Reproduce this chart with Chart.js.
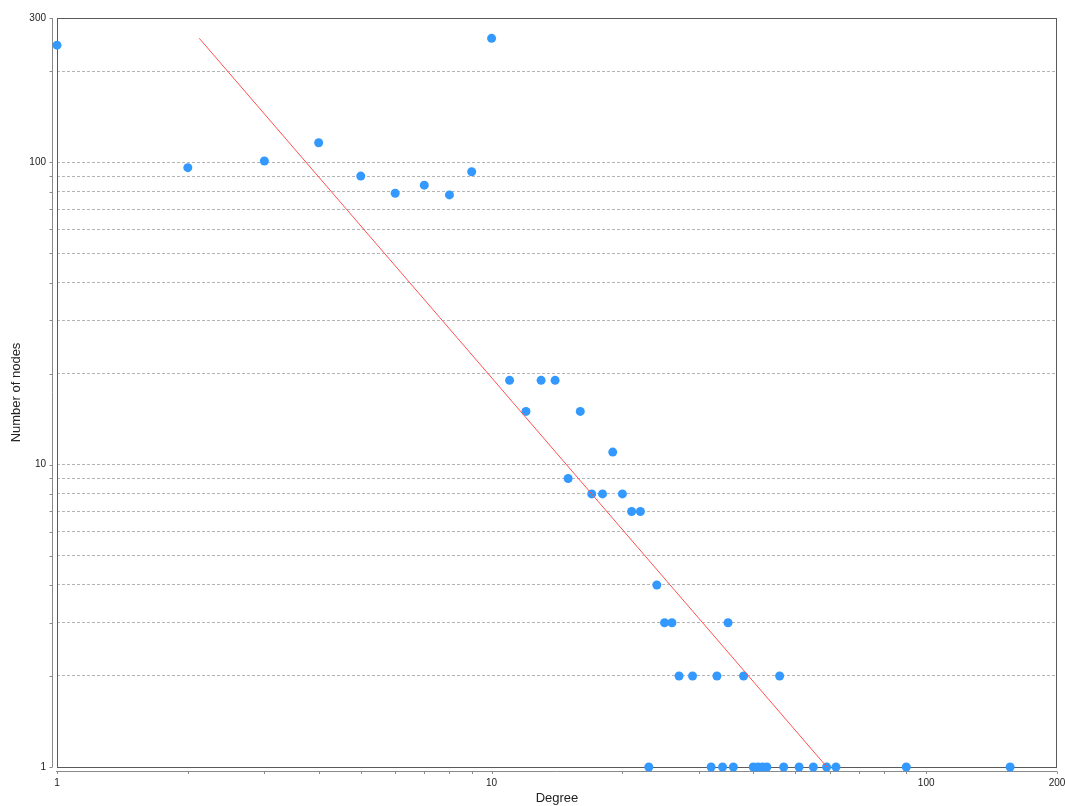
<!DOCTYPE html>
<html>
<head>
<meta charset="utf-8">
<script src="https://cdn.jsdelivr.net/npm/chart.js@4/dist/chart.umd.min.js"></script>
<style>
  html, body { margin: 0; padding: 0; background: #fff; }
  #wrap { width: 1065px; height: 806px; position: relative; }
</style>
</head>
<body>
<div id="wrap"><canvas id="c"></canvas></div>
<script>
// Degree distribution
const degrees = [1,2,3,4,5,6,7,8,9,10,11,12,13,14,15,16,17,18,19,20,21,22,23,24,25,26,27,29,32,33,34,35,36,38,40,41,42,43,46,47,51,55,59,62,90,156];
const nodeCounts = [244,96,101,116,90,79,84,78,93,257,19,15,19,19,9,15,8,8,11,8,7,7,1,4,3,3,2,2,1,2,1,3,1,2,1,1,1,1,2,1,1,1,1,1,1,1];

// Power-law fit line endpoints
const fitDegrees = [2.125, 59.1];
const fitCounts = [257, 1];

// Axis ticks
const xTickValues = [1,2,3,4,5,6,7,8,9,10,20,30,40,50,60,70,80,90,100,200];
const xTickLabels = [1,10,100,200];
const yTickValues = [1,2,3,4,5,6,7,8,9,10,20,30,40,50,60,70,80,90,100,200,300];
const yTickLabels = [1,10,100,300];

const FONT = '"Liberation Sans", Arial, Helvetica, sans-serif';

const frame = {
  id: 'frame',
  beforeDatasetsDraw(chart) {
    const {ctx, chartArea: a, scales} = chart;
    ctx.save();
    // plot box
    ctx.strokeStyle = '#5a5a5a';
    ctx.lineWidth = 1;
    ctx.strokeRect(Math.round(a.left) + 0.5, Math.round(a.top) + 0.5,
                   Math.round(a.right - a.left) - 1, Math.round(a.bottom - a.top));
    // offset y axis
    ctx.strokeStyle = '#8a8a8a';
    const ax = Math.round(a.left) - 5 + 0.5;
    ctx.beginPath();
    ctx.moveTo(ax, a.top);
    ctx.lineTo(ax, a.bottom);
    scales.y.ticks.forEach(t => {
      const py = Math.round(scales.y.getPixelForValue(t.value)) + 0.5;
      ctx.moveTo(ax, py);
      ctx.lineTo(ax - 3, py);
    });
    ctx.stroke();
    // offset x axis
    const ay = Math.round(a.bottom) + 4 + 0.5;
    ctx.beginPath();
    ctx.moveTo(a.left - 1, ay);
    ctx.lineTo(a.right, ay);
    scales.x.ticks.forEach(t => {
      const px = Math.round(scales.x.getPixelForValue(t.value)) + 0.5;
      ctx.moveTo(px, ay);
      ctx.lineTo(px, ay + 2.5);
    });
    ctx.stroke();
    ctx.restore();
  }
};

new Chart(document.getElementById('c'), {
  type: 'scatter',
  data: {
    datasets: [
      {
        label: 'Nodes',
        data: degrees.map((d, i) => ({x: d, y: nodeCounts[i]})),
        backgroundColor: '#3399ff',
        borderColor: '#3399ff',
        pointRadius: 4.5,
        pointHoverRadius: 4.5,
        borderWidth: 0,
        clip: false,
        order: 2
      },
      {
        type: 'line',
        label: 'Fit',
        data: fitDegrees.map((d, i) => ({x: d, y: fitCounts[i]})),
        borderColor: '#ff5050',
        borderWidth: 1,
        pointRadius: 0,
        fill: false,
        clip: false,
        order: 1
      }
    ]
  },
  options: {
    responsive: true,
    maintainAspectRatio: false,
    animation: false,
    layout: { padding: { top: 18, right: 8, left: 0, bottom: 0 } },
    plugins: { legend: { display: false }, tooltip: { enabled: false } },
    scales: {
      x: {
        type: 'logarithmic',
        min: 1,
        max: 200,
        afterBuildTicks: s => { s.ticks = xTickValues.map(v => ({value: v})); },
        afterFit: s => { s.height = 39; s.paddingLeft = 0; s.paddingRight = 0; },
        ticks: {
          autoSkip: false,
          maxRotation: 0,
          padding: 2,
          color: '#222',
          font: { family: FONT, size: 10 },
          callback: v => xTickLabels.includes(v) ? String(v) : ''
        },
        grid: { drawOnChartArea: false, drawTicks: true, tickLength: 8, tickColor: 'transparent' },
        border: { display: false },
        title: {
          display: true,
          text: 'Degree',
          color: '#222',
          font: { family: FONT, size: 13 },
          padding: { top: 0, bottom: 0 }
        }
      },
      y: {
        type: 'logarithmic',
        min: 1,
        max: 300,
        afterBuildTicks: s => { s.ticks = yTickValues.map(v => ({value: v})); },
        afterFit: s => { s.width = 57; s.paddingTop = 0; s.paddingBottom = 0; },
        ticks: {
          autoSkip: false,
          padding: 3,
          color: '#222',
          font: { family: FONT, size: 10 },
          callback: v => yTickLabels.includes(v) ? String(v) : ''
        },
        grid: {
          drawTicks: true,
          tickLength: 8,
          tickColor: 'transparent',
          lineWidth: 1,
          color: c => (c.tick && (c.tick.value === 1 || c.tick.value === 300)) ? 'transparent' : '#b4b4b4'
        },
        border: { display: false, dash: [3, 2] },
        title: {
          display: true,
          text: 'Number of nodes',
          color: '#222',
          font: { family: FONT, size: 13 },
          padding: { top: 9, bottom: 0 }
        }
      }
    }
  },
  plugins: [frame]
});
</script>
</body>
</html>
